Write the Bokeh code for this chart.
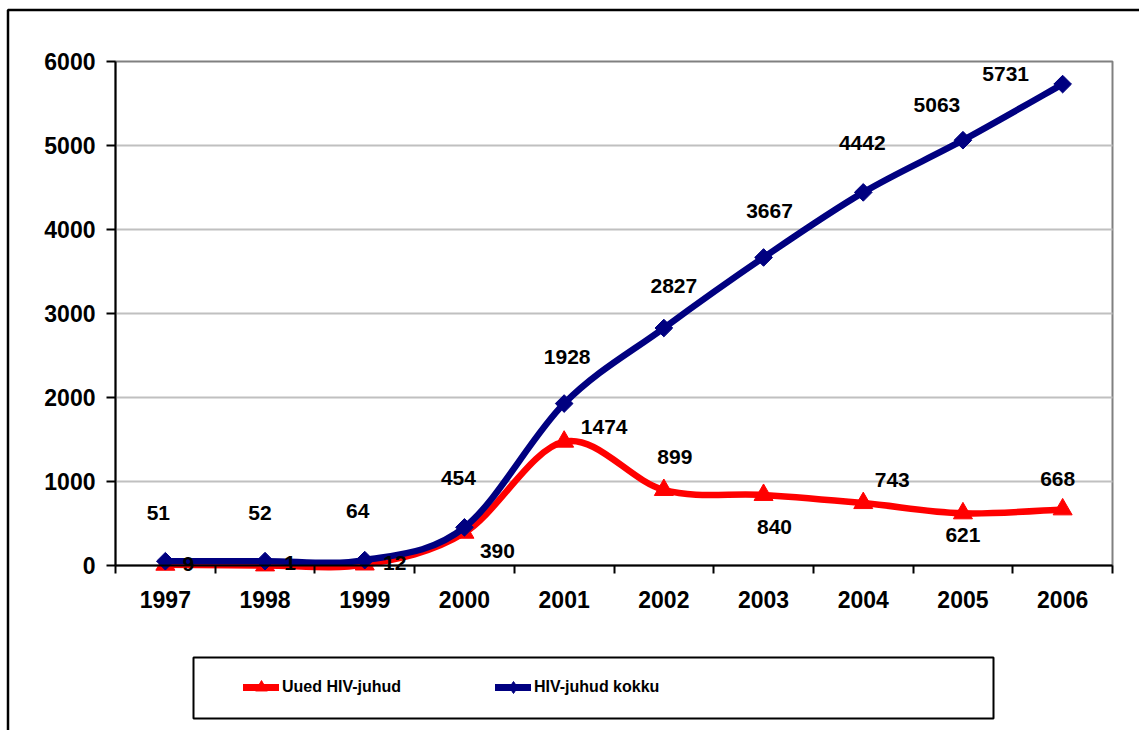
from bokeh.plotting import figure
from bokeh.models import (ColumnDataSource, LabelSet, FixedTicker, Legend, LegendItem,
                          BoxAnnotation, Range1d)
from bokeh.core.properties import value
from bokeh.embed import file_html
from bokeh.resources import INLINE

# ---------------- data ----------------
years = ["1997", "1998", "1999", "2000", "2001", "2002", "2003", "2004", "2005", "2006"]
new_cases = [9, 1, 12, 390, 1474, 899, 840, 743, 621, 668]
total_cases = [51, 52, 64, 454, 1928, 2827, 3667, 4442, 5063, 5731]
y_ticks = [0, 1000, 2000, 3000, 4000, 5000, 6000]
series_names = ["Uued HIV-juhud", "HIV-juhud kokku"]

# ---------------- label offsets (style, px) ----------------
new_dx = [23, 25, 30, 33, 40, 11, 11, 29, 0, -5]
new_dy = [1, 2, 1, -18, 15, 33, -32, 23, -22, 30]
total_dx = [-7, -5, -7, -6, 3, 10, 6, -1, -26, -57]
total_dy = [48, 48, 49, 49, 47, 42, 46, 49, 35, 10]

RED = "#FF0000"
NAVY = "#000080"
FONT = "Liberation Sans"

# ---------------- layout (px) ----------------
W, H = 1139, 730
PL, PR, PT, PB = 115, 1112, 61, 565        # plot area edges on the canvas
ncat = len(years)
ymin, ymax = y_ticks[0], y_ticks[-1]
px_per_cat = (PR - PL) / ncat
px_per_unit = (PB - PT) / (ymax - ymin)
x_start = -0.5 - PL / px_per_cat
x_end = ncat - 0.5 + (W - PR) / px_per_cat
y_start = ymin - (H - PB) / px_per_unit
y_end = ymax + PT / px_per_unit

xs = list(range(ncat))
NAN = float("nan")


def smooth_segments(x, y):
    """Excel-like smoothed line: cubic Bezier per segment (Catmull-Rom control points)."""
    n = len(x)
    seg = dict(x0=[], y0=[], x1=[], y1=[], cx0=[], cy0=[], cx1=[], cy1=[])
    for i in range(n - 1):
        ip = max(i - 1, 0)
        inn = min(i + 2, n - 1)
        seg["x0"].append(x[i]); seg["y0"].append(y[i])
        seg["x1"].append(x[i + 1]); seg["y1"].append(y[i + 1])
        seg["cx0"].append(x[i] + (x[i + 1] - x[ip]) / 6.0)
        seg["cy0"].append(y[i] + (y[i + 1] - y[ip]) / 6.0)
        seg["cx1"].append(x[i + 1] - (x[inn] - x[i]) / 6.0)
        seg["cy1"].append(y[i + 1] - (y[inn] - y[i]) / 6.0)
    return ColumnDataSource(seg)


p = figure(width=W, height=H, output_backend="svg", toolbar_location=None,
           x_range=Range1d(x_start, x_end), y_range=Range1d(y_start, y_end),
           min_border=0, min_border_left=0, min_border_right=0,
           min_border_top=0, min_border_bottom=0)
p.background_fill_color = "white"
p.border_fill_color = "white"
p.outline_line_color = None
p.grid.visible = False

# plot-area border (gray) and horizontal grid lines
p.add_layout(BoxAnnotation(left=-0.5, right=ncat - 0.5, bottom=ymin, top=ymax,
                           fill_alpha=0, line_color="#808080", line_alpha=1, line_width=2,
                           level="underlay"))
grid_y = y_ticks[1:-1]
p.segment(x0=[-0.5] * len(grid_y), x1=[ncat - 0.5] * len(grid_y), y0=grid_y, y1=grid_y,
          line_color="#c0c0c0", line_width=2)

# y axis
p.yaxis.fixed_location = -0.5
p.yaxis.bounds = (ymin, ymax)
p.yaxis.ticker = FixedTicker(ticks=y_ticks)
p.yaxis.axis_line_color = "black"
p.yaxis.axis_line_width = 2
p.yaxis.major_tick_line_color = "black"
p.yaxis.major_tick_line_width = 2
p.yaxis.major_tick_out = 9
p.yaxis.major_tick_in = 0
p.yaxis.minor_tick_line_color = None
p.yaxis.major_label_text_font = FONT
p.yaxis.major_label_text_font_style = "bold"
p.yaxis.major_label_text_font_size = "23px"
p.yaxis.major_label_text_color = "black"
p.yaxis.major_label_standoff = 11

# x axis
p.xaxis.fixed_location = ymin
p.xaxis.bounds = (-0.5, ncat - 0.5)
p.xaxis.ticker = FixedTicker(ticks=xs, minor_ticks=[i - 0.5 for i in range(ncat + 1)])
p.xaxis.major_label_overrides = {i: y for i, y in enumerate(years)}
p.xaxis.axis_line_color = "black"
p.xaxis.axis_line_width = 2
p.xaxis.major_tick_line_color = None
p.xaxis.major_tick_out = 0
p.xaxis.major_tick_in = 0
p.xaxis.minor_tick_line_color = "black"
p.xaxis.minor_tick_line_width = 2
p.xaxis.minor_tick_out = 8
p.xaxis.minor_tick_in = 0
p.xaxis.major_label_text_font = FONT
p.xaxis.major_label_text_font_style = "bold"
p.xaxis.major_label_text_font_size = "23px"
p.xaxis.major_label_text_color = "black"
p.xaxis.major_label_standoff = 17

# series: red (new) below, navy (total) on top
p.bezier(x0="x0", y0="y0", x1="x1", y1="y1", cx0="cx0", cy0="cy0", cx1="cx1", cy1="cy1",
         source=smooth_segments(xs, new_cases), line_color=RED, line_width=6.5, line_cap="round")
p.scatter(xs, new_cases, marker="triangle", size=19, fill_color=RED, line_color=RED)

p.bezier(x0="x0", y0="y0", x1="x1", y1="y1", cx0="cx0", cy0="cy0", cx1="cx1", cy1="cy1",
         source=smooth_segments(xs, total_cases), line_color=NAVY, line_width=6.5, line_cap="round")
p.scatter(xs, total_cases, marker="square", angle=0.785398, size=12.5,
          fill_color=NAVY, line_color=NAVY)

# data labels
src_new = ColumnDataSource(dict(x=xs, y=new_cases, t=[str(v) for v in new_cases], dx=new_dx, dy=new_dy))
src_tot = ColumnDataSource(dict(x=xs, y=total_cases, t=[str(v) for v in total_cases], dx=total_dx, dy=total_dy))
for src in (src_new, src_tot):
    p.add_layout(LabelSet(x="x", y="y", text="t", source=src, x_offset="dx", y_offset="dy",
                          text_align="center", text_baseline="middle",
                          text_font=value(FONT), text_font_style="bold",
                          text_font_size="21px", text_color="black"))

# legend proxies (not drawn in the plot area)
lr_line = p.line(x=[NAN], y=[NAN], line_color=RED, line_width=7, line_cap="round")
lr_mark = p.scatter(x=[NAN], y=[NAN], marker="triangle", size=16, fill_color=RED, line_color=RED)
lb_line = p.line(x=[NAN], y=[NAN], line_color=NAVY, line_width=7, line_cap="round")
lb_mark = p.scatter(x=[NAN], y=[NAN], marker="diamond", size=18, fill_color=NAVY, line_color=NAVY)

legend = Legend(items=[LegendItem(label=series_names[0], renderers=[lr_line, lr_mark]),
                       LegendItem(label=series_names[1], renderers=[lb_line, lb_mark])],
                orientation="horizontal", location=(243, 28),
                glyph_width=36, glyph_height=30, label_standoff=3, label_width=213, spacing=0,
                padding=0, margin=0, border_line_color=None, background_fill_alpha=0,
                label_text_font=FONT,
                label_text_font_style="bold", label_text_font_size="16px",
                label_text_color="black")
p.add_layout(legend, "center")

# legend box and outer frame
p.add_layout(BoxAnnotation(left=193, right=993, top=657, bottom=718,
                           left_units="canvas", right_units="canvas",
                           top_units="canvas", bottom_units="canvas",
                           fill_alpha=0, line_color="black", line_alpha=1, line_width=2))
p.add_layout(BoxAnnotation(left=7.5, right=1300, top=9.5, bottom=900,
                           left_units="canvas", right_units="canvas",
                           top_units="canvas", bottom_units="canvas",
                           fill_alpha=0, line_color="black", line_alpha=1, line_width=2.5))

open("out.html", "w").write(file_html(p, INLINE))
